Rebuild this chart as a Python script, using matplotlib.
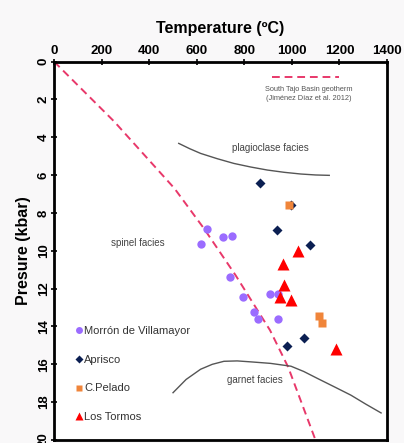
import matplotlib.pyplot as plt
from matplotlib.lines import Line2D

plt.rcParams['font.family'] = ['Liberation Sans', 'DejaVu Sans']

# data (T in degC, P in kbar)
villa_T = [641, 616, 711, 748, 738, 794, 907, 940, 839, 859, 943]
villa_P = [8.85, 9.65, 9.28, 9.2, 11.37, 12.43, 12.3, 12.3, 13.26, 13.63, 13.63]
aprisco_T = [866, 998, 939, 1074, 1052, 981]
aprisco_P = [6.42, 7.58, 8.92, 9.7, 14.6, 15.03]
pelado_T = [988, 1115, 1125]
pelado_P = [7.6, 13.42, 13.83]
tormos_T = [1025, 962, 966, 949, 998, 1186]
tormos_P = [10.0, 10.72, 11.8, 12.43, 12.6, 15.2]

geo_T = [0, 253, 506, 630, 763, 908, 984, 1097]
geo_P = [0, 3.17, 6.7, 8.82, 11.29, 14.2, 16.14, 19.93]

plag_T = [524, 570, 616, 686, 756, 827, 897, 968, 1038, 1100, 1157]
plag_P = [4.32, 4.6, 4.85, 5.13, 5.38, 5.57, 5.73, 5.85, 5.94, 5.99, 6.01]
garnet_T = [500, 555, 616, 665, 714, 770, 827, 910, 996, 1050, 1108, 1180, 1248, 1310, 1375]
garnet_P = [17.5, 16.8, 16.26, 16.0, 15.84, 15.82, 15.87, 15.95, 16.1, 16.38, 16.75, 17.2, 17.63, 18.1, 18.57]

fig = plt.figure(figsize=(4.04, 4.43), dpi=100, facecolor='#f9f8f9')
ax = fig.add_axes([0.134, 0.0068, 0.824, 0.854])

ax.plot(geo_T, geo_P, color='#e8386a', lw=1.4, ls=(0, (4, 2.5)))
ax.plot(plag_T, plag_P, color='#555555', lw=1.0)
ax.plot(garnet_T, garnet_P, color='#555555', lw=1.0)

ax.plot(villa_T, villa_P, 'o', color='#9b6cff', ms=6, mec='none')
ax.plot(aprisco_T, aprisco_P, 'D', color='#0b1f52', ms=5, mec='none')
ax.plot(pelado_T, pelado_P, 's', color='#f0853a', ms=6, mec='none')
ax.plot(tormos_T, tormos_P, '^', color='#ff0000', ms=8, mec='none')

ax.text(910, 4.57, 'plagioclase facies', fontsize=7, color='#444444', ha='center', va='center')
ax.text(354, 9.58, 'spinel facies', fontsize=7, color='#444444', ha='center', va='center')
ax.text(844, 16.84, 'garnet facies', fontsize=7, color='#444444', ha='center', va='center')

# geotherm legend
ax.plot([915, 1200], [0.79, 0.79], color='#e8386a', lw=1.4, ls=(0, (4, 2.5)))
ax.text(1071, 1.46, 'South Tajo Basin geotherm', fontsize=5.3, color='#555555', ha='center', va='center')
ax.text(1071, 1.97, '(Jiménez Díaz et al. 2012)', fontsize=5.3, color='#555555', ha='center', va='center')

handles = [
    Line2D([], [], marker='o', ls='none', color='#9b6cff', ms=5, mec='none'),
    Line2D([], [], marker='D', ls='none', color='#0b1f52', ms=4, mec='none'),
    Line2D([], [], marker='s', ls='none', color='#f0853a', ms=5, mec='none'),
    Line2D([], [], marker='^', ls='none', color='#ff0000', ms=6, mec='none'),
]
labels = ['Morrón de Villamayor', 'Aprisco', 'C.Pelado', 'Los Tormos']
leg = ax.legend(handles, labels, loc='upper left', bbox_to_anchor=(0.048, 0.317),
                frameon=False, fontsize=8, handlelength=0.6, handletextpad=0.15,
                labelspacing=1.7, borderpad=0)
for t in leg.get_texts():
    t.set_color('#333333')

ax.set_xlim(0, 1400)
ax.set_ylim(20, 0)
ax.set_xticks(range(0, 1401, 200))
ax.set_yticks(range(0, 21, 2))
ax.xaxis.tick_top()
ax.xaxis.set_label_position('top')
ax.tick_params(axis='both', direction='inout', length=4, width=1.2, labelsize=9.5, pad=1)
for lab in ax.get_xticklabels():
    lab.set_fontweight('bold')
for lab in ax.get_yticklabels():
    lab.set_fontweight('bold')
    lab.set_rotation(90)
    lab.set_va('center')
ax.set_xlabel('Temperature (ºC)', fontsize=11.5, fontweight='bold', labelpad=9)
ax.set_ylabel('Presure (kbar)', fontsize=11.5, fontweight='bold', labelpad=5)
for s in ax.spines.values():
    s.set_linewidth(2)

fig.savefig('out.png', dpi=100, facecolor=fig.get_facecolor())
